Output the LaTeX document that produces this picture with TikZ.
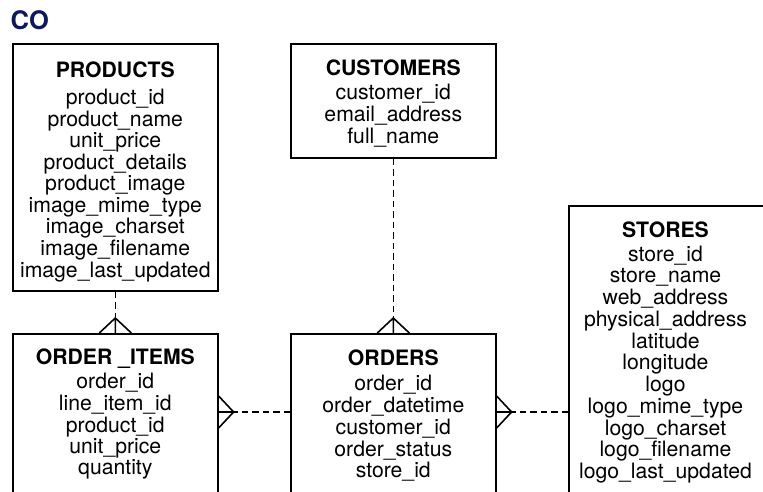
\documentclass[tikz,border=0pt]{standalone}
\usepackage{fontspec}
\setmainfont{TeX Gyre Heros}
\definecolor{titleblue}{RGB}{12,26,92}
\newcommand{\tabrows}[1]{\begin{tabular}[t]{@{}c@{}}#1\end{tabular}}
\begin{document}
\begin{tikzpicture}[x=1pt,y=-1pt,
  tbox/.style={draw=black,line width=1.6pt,anchor=north west,inner sep=0pt},
  tabtext/.style={inner sep=0pt,font=\fontsize{21.2}{21}\selectfont,anchor=base},
  rel/.style={line width=1.6pt,dash pattern=on 6.5pt off 4pt},
  crow/.style={line width=1.6pt}]
\clip (0,0) rectangle (763,491);
% title
\node[anchor=base west,inner sep=0pt,font=\bfseries\fontsize{25.5}{25.5}\selectfont,text=titleblue] (title) at (10.5,29.3) {CO};
% boxes
\node[tbox,minimum width=205pt,minimum height=247pt] (products) at (12,43) {};
\node[tbox,minimum width=205pt,minimum height=114pt] (customers) at (290,43) {};
\node[tbox,minimum width=230pt,minimum height=330pt] (stores) at (568,205) {};
\node[tbox,minimum width=205pt,minimum height=180pt] (orderitems) at (12,333) {};
\node[tbox,minimum width=205pt,minimum height=180pt] (orders) at (290,333) {};
% texts
\node[tabtext] (productsT) at ([yshift=-34.5pt]products.north) {\tabrows{\textbf{PRODUCTS}\\[5pt]
 product\_id\\ product\_name\\ unit\_price\\ product\_details\\ product\_image\\ image\_mime\_type\\ image\_charset\\ image\_filename\\ image\_last\_updated}};
\node[tabtext] (customersT) at ([yshift=-32pt]customers.north) {\tabrows{\textbf{CUSTOMERS}\\[3pt]
 customer\_id\\ email\_address\\ full\_name}};
\node[tabtext] (storesT) at (665.5,237) {\tabrows{\textbf{STORES}\\[3pt]
 store\_id\\ store\_name\\ web\_address\\ physical\_address\\ latitude\\ longitude\\ logo\\ logo\_mime\_type\\ logo\_charset\\ logo\_filename\\ logo\_last\_updated}};
\node[tabtext] (orderitemsT) at ([yshift=-31pt]orderitems.north) {\tabrows{\textbf{ORDER \_ITEMS}\\[3pt]
 order\_id\\ line\_item\_id\\ product\_id\\ unit\_price\\ quantity}};
\node[tabtext] (ordersT) at ([yshift=-32pt]orders.north) {\tabrows{\textbf{ORDERS}\\[4pt]
 order\_id\\ order\_datetime\\ customer\_id\\ order\_status\\ store\_id}};
% connector coordinates
\path (orderitems.north east) ++(0,79) coordinate (oiE);
\path (orders.north west) ++(0,79) coordinate (orW);
\path (orders.north east) ++(0,79) coordinate (orE);
\path (stores.north west) ++(0,207) coordinate (stW);
% PRODUCTS -> ORDER_ITEMS
\draw[rel] (products.south) -- ([yshift=15pt]orderitems.north);
\draw[crow] ([yshift=15pt]orderitems.north) -- (orderitems.north)
  ([yshift=15pt]orderitems.north) -- ([xshift=-16pt]orderitems.north)
  ([yshift=15pt]orderitems.north) -- ([xshift=16pt]orderitems.north);
% CUSTOMERS -> ORDERS
\draw[rel] (customers.south) -- ([yshift=15pt]orders.north);
\draw[crow] ([yshift=15pt]orders.north) -- (orders.north)
  ([yshift=15pt]orders.north) -- ([xshift=-16pt]orders.north)
  ([yshift=15pt]orders.north) -- ([xshift=16pt]orders.north);
% ORDERS -> ORDER_ITEMS
\draw[rel] (orW) -- ([xshift=15pt]oiE);
\draw[crow] ([xshift=15pt]oiE) -- (oiE)
  ([xshift=15pt]oiE) -- ([yshift=16pt]oiE)
  ([xshift=15pt]oiE) -- ([yshift=-16pt]oiE);
% STORES -> ORDERS
\draw[rel] (stW) -- ([xshift=15pt]orE);
\draw[crow] ([xshift=15pt]orE) -- (orE)
  ([xshift=15pt]orE) -- ([yshift=16pt]orE)
  ([xshift=15pt]orE) -- ([yshift=-16pt]orE);
\end{tikzpicture}
\end{document}
